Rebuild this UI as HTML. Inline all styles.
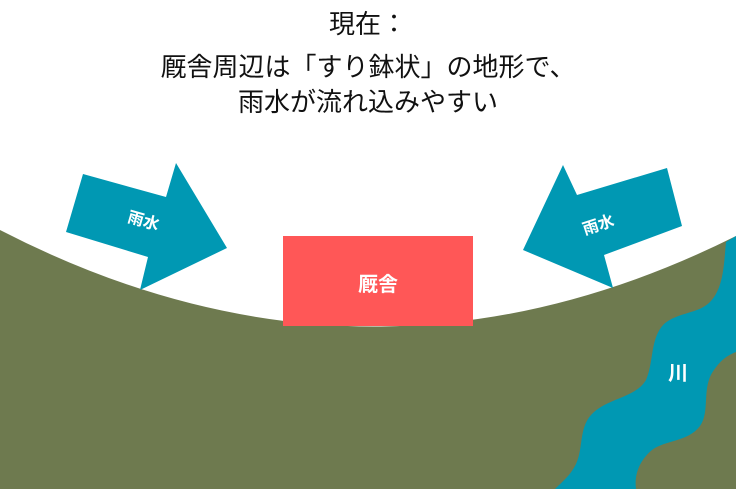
<!DOCTYPE html>
<html><head><meta charset="utf-8"><style>
html,body{margin:0;padding:0;background:#fff;}
body{width:736px;height:489px;overflow:hidden;position:relative;}
.t{position:absolute;left:0;width:736px;text-align:center;font-family:"Liberation Sans","Noto Sans CJK JP",sans-serif;font-size:26px;color:#111;line-height:30px;}
</style></head><body>
<svg width="736" height="489" style="position:absolute;left:0;top:0">
<path d="M0,230 Q368,420 736,236 L736,489 L0,489 Z" fill="#6e7a4f"/>
<path d="M736,236 L726,242 C724,262 724,288 710,302 C698,314 678,312 664,324 C650,338 654,362 646,380 C636,397 610,398 594,412 C578,426 584,447 576,464 C570,476 562,482 555,489 L636,489 C634,474 640,460 652,450 C665,440 688,442 700,426 C710,412 702,390 712,373 C720,360 728,355 736,352 Z" fill="#0098b3"/>
<text x="678" y="380" fill="#fff" font-family="Liberation Sans,Noto Sans CJK JP,sans-serif" font-size="20" font-weight="bold" text-anchor="middle">川</text>
<rect x="283" y="236" width="190" height="90" fill="#ff5757"/>
<text x="378" y="291" fill="#fff" font-family="Liberation Sans,Noto Sans CJK JP,sans-serif" font-size="20" font-weight="bold" text-anchor="middle">厩舎</text>
<polygon points="83,174 166,197 176,163 227,248 140,290 148,257 66,232" fill="#0098b3"/>
<text x="142" y="226" fill="#fff" font-family="Liberation Sans,Noto Sans CJK JP,sans-serif" font-size="16" font-weight="bold" text-anchor="middle" transform="rotate(16 142 226)">雨水</text>
<polygon points="667,168 682,226 604,255 613,288 523,250 563,165 577,195" fill="#0098b3"/>
<text x="600" y="230" fill="#fff" font-family="Liberation Sans,Noto Sans CJK JP,sans-serif" font-size="16" font-weight="bold" text-anchor="middle" transform="rotate(-18 600 230)">雨水</text>
</svg>
<div class="t" style="top:9px">現在：</div>
<div class="t" style="top:52px">厩舎周辺は「すり鉢状」の地形で、</div>
<div class="t" style="top:87px">雨水が流れ込みやすい</div>
</body></html>
